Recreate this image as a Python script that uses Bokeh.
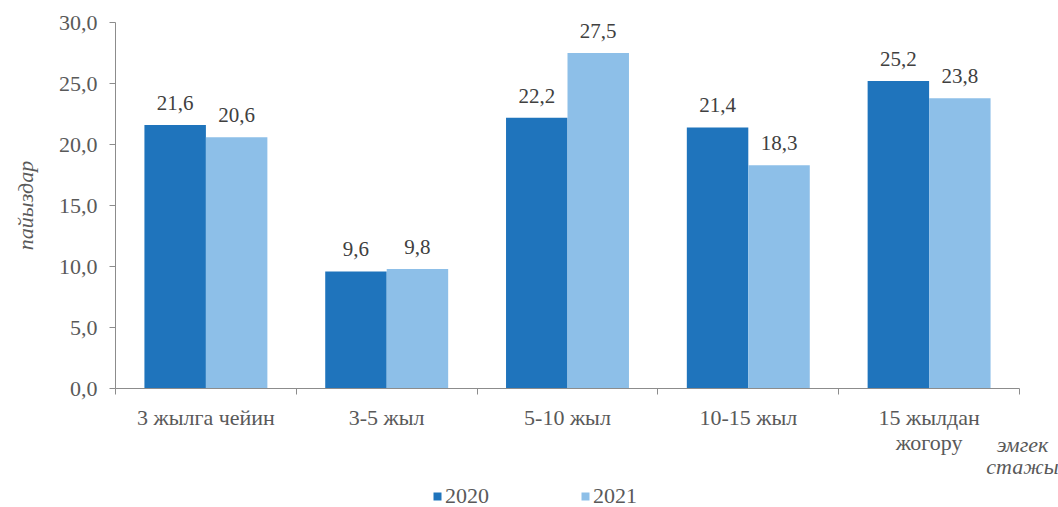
import math
from bokeh.plotting import figure
from bokeh.models import (ColumnDataSource, FixedTicker, CustomJSTickFormatter, Range1d,
                          Label, Legend, LegendItem, LabelSet, InlineStyleSheet)
from bokeh.embed import file_html
from bokeh.resources import INLINE

categories = ["3 жылга чейин", "3-5 жыл", "5-10 жыл", "10-15 жыл", "15 жылдан\nжогору"]
series_names = ["2020", "2021"]
values_2020 = [21.6, 9.6, 22.2, 21.4, 25.2]
values_2021 = [20.6, 9.8, 27.5, 18.3, 23.8]
y_ticks = [0, 5, 10, 15, 20, 25, 30]
y_title = "пайыздар"
x_title = ["эмгек", "стажы"]

FONT = "Liberation Serif"
DARK = "#1F74BC"
LIGHT = "#8DBFE8"
TEXT = "#595959"
LABEL = "#404040"
AXIS = "#8C8C8C"
FS = "22px"

W, H = 1058, 507
# pixel placement of the value axes
AX_L, AX_R, AX_T, AX_B = 115, 1019, 22, 388
n = len(categories)
YMAX = 30
pxx = (AX_R - AX_L) / n
pxy = (AX_B - AX_T) / YMAX
x_range = Range1d(-AX_L / pxx, n + (W - AX_R) / pxx)
y_range = Range1d(-(H - AX_B) / pxy, YMAX + AX_T / pxy)

def dx(px):
    return (px - AX_L) / pxx

def dy(py):
    return (AX_B - py) / pxy

BW = 0.34
centers = [i + 0.5 for i in range(n)]

def fmt(v):
    return f"{v:.1f}".replace(".", ",")

src20 = ColumnDataSource(dict(x=[c - BW / 2 for c in centers], top=values_2020,
                              lab=[fmt(v) for v in values_2020]))
src21 = ColumnDataSource(dict(x=[c + BW / 2 for c in centers], top=values_2021,
                              lab=[fmt(v) for v in values_2021]))

p = figure(width=W, height=H, output_backend="svg", toolbar_location=None,
           x_range=x_range, y_range=y_range,
           min_border_left=0, min_border_right=0, min_border_top=0, min_border_bottom=0)
p.stylesheets = [InlineStyleSheet(css="text { font-family: 'Liberation Serif', serif !important; }")]
p.background_fill_color = "white"
p.border_fill_color = "white"
p.outline_line_color = None
p.grid.visible = False

r20 = p.vbar(x="x", top="top", width=BW, source=src20, fill_color=DARK, line_color=None)
r21 = p.vbar(x="x", top="top", width=BW, source=src21, fill_color=LIGHT, line_color=None)

for s in (src20, src21):
    p.add_layout(LabelSet(x="x", y="top", text="lab", source=s, text_align="center",
                          text_baseline="alphabetic", y_offset=15,
                          text_font=FONT, text_font_size="21px", text_color=LABEL))

# y axis
ya = p.yaxis[0]
ya.fixed_location = 0
ya.bounds = (0, YMAX)
ya.ticker = FixedTicker(ticks=y_ticks)
ya.formatter = CustomJSTickFormatter(code="return tick.toFixed(1).replace('.', ',');")
ya.axis_line_color = AXIS
ya.major_tick_line_color = AXIS
ya.major_tick_in = 0
ya.major_tick_out = 6
ya.minor_tick_line_color = None
ya.major_label_standoff = 12
ya.major_label_text_font = FONT
ya.major_label_text_font_size = FS
ya.major_label_text_color = TEXT

# x axis
xa = p.xaxis[0]
xa.fixed_location = 0
xa.bounds = (0, n)
xa.ticker = FixedTicker(ticks=centers, minor_ticks=list(range(n + 1)))
xa.formatter = CustomJSTickFormatter(args=dict(labels=categories),
                                     code="return labels[Math.floor(tick)];")
xa.axis_line_color = AXIS
xa.major_tick_line_color = None
xa.major_tick_in = 0
xa.major_tick_out = 6
xa.minor_tick_line_color = AXIS
xa.minor_tick_in = 0
xa.minor_tick_out = 6
xa.major_label_standoff = 10
xa.major_label_text_font = FONT
xa.major_label_text_font_size = FS
xa.major_label_text_color = TEXT
xa.major_label_text_line_height = 1.03

# axis titles
p.add_layout(Label(x=dx(25), y=YMAX / 2, text=y_title, angle=math.pi / 2, text_align="center",
                   text_baseline="middle", text_font=FONT, text_font_style="italic",
                   text_font_size=FS, text_color=TEXT))
for i, t in enumerate(x_title):
    p.add_layout(Label(x=dx(1022), y=dy(444 + 22 * i), text=t, text_align="center",
                       text_baseline="middle", text_font=FONT, text_font_style="italic",
                       text_font_size=FS, text_color=TEXT))

legend = Legend(items=[LegendItem(label=series_names[0], renderers=[r20]),
                       LegendItem(label=series_names[1], renderers=[r21])],
                orientation="horizontal", location=(432, -2),
                glyph_width=10, glyph_height=10, label_standoff=3, spacing=91,
                padding=0, margin=0, border_line_color=None, background_fill_alpha=0,
                label_text_font=FONT, label_text_font_size=FS, label_text_color=TEXT)
p.add_layout(legend, "center")

open("out.html", "w").write(file_html(p, INLINE))
